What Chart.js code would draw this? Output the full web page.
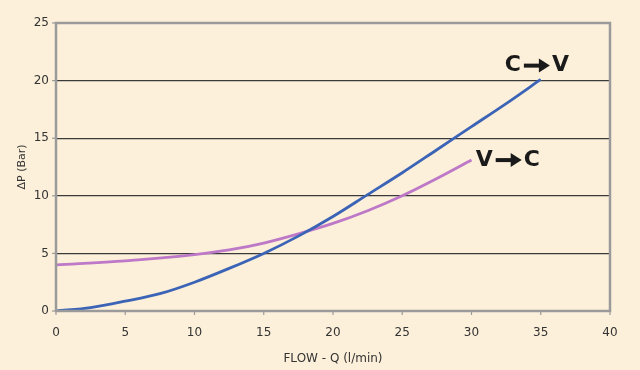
<!DOCTYPE html>
<html><head><meta charset="utf-8">
<script src="https://cdn.jsdelivr.net/npm/chart.js@4"></script>
<style>html,body{margin:0;padding:0;background:#fdf0da;}#wrap{width:640px;height:370px;}</style>
</head><body><div id="wrap"><canvas id="c" width="640" height="370"></canvas></div>
<script>
const flowCV = [0, 2.5, 5, 7.5, 10, 12.5, 15, 17.5, 20, 22.5, 25, 27.5, 30, 32.5, 35];
const dpCV   = [0, 0.3, 0.85, 1.5, 2.5, 3.7, 5.0, 6.5, 8.2, 10.1, 12.0, 14.0, 16.0, 18.0, 20.1];
const flowVC = [0, 5, 10, 12.5, 15, 17.5, 20, 22.5, 25, 27.5, 30];
const dpVC   = [4.0, 4.35, 4.9, 5.3, 5.9, 6.7, 7.6, 8.7, 10.0, 11.5, 13.1];
const xTicks = [0, 5, 10, 15, 20, 25, 30, 35, 40];
const yTicks = [0, 5, 10, 15, 20, 25];
const labels = [
  {from: 'C', to: 'V', x: 32.4, y: 21.3},
  {from: 'V', to: 'C', x: 30.3, y: 13.1}
];

const FONT = "'DejaVu Sans', sans-serif";
const frame = {
  id: 'frame',
  afterDatasetsDraw(chart) {
    const {ctx, chartArea: a, scales} = chart;
    ctx.save();
    ctx.strokeStyle = '#9a9a9a';
    ctx.lineWidth = 2.5;
    ctx.strokeRect(a.left, a.top, a.right - a.left, a.bottom - a.top);
    ctx.lineWidth = 1.2;
    xTicks.forEach(v => { const px = scales.x.getPixelForValue(v); ctx.beginPath(); ctx.moveTo(px, a.bottom); ctx.lineTo(px, a.bottom + 4); ctx.stroke(); });
    yTicks.forEach(v => { const py = scales.y.getPixelForValue(v); ctx.beginPath(); ctx.moveTo(a.left - 4, py); ctx.lineTo(a.left, py); ctx.stroke(); });
    ctx.fillStyle = '#1a1a1a';
    ctx.strokeStyle = '#1a1a1a';
    ctx.font = "bold 22px " + FONT;
    ctx.textBaseline = 'middle';
    labels.forEach(l => {
      let px = scales.x.getPixelForValue(l.x);
      const py = scales.y.getPixelForValue(l.y);
      ctx.fillText(l.from, px, py);
      px += ctx.measureText(l.from).width + 3;
      ctx.lineWidth = 4;
      ctx.beginPath(); ctx.moveTo(px, py); ctx.lineTo(px + 18, py); ctx.stroke();
      ctx.beginPath(); ctx.moveTo(px + 15, py - 7); ctx.lineTo(px + 26, py); ctx.lineTo(px + 15, py + 7); ctx.closePath(); ctx.fill();
      ctx.fillText(l.to, px + 28, py);
    });
    ctx.restore();
  }
};

new Chart(document.getElementById('c'), {
  type: 'scatter',
  data: {
    datasets: [
      {label: 'C→V', data: flowCV.map((x, i) => ({x, y: dpCV[i]})), showLine: true, borderColor: '#3b63b6', borderWidth: 2.8, pointRadius: 0, cubicInterpolationMode: 'monotone'},
      {label: 'V→C', data: flowVC.map((x, i) => ({x, y: dpVC[i]})), showLine: true, borderColor: '#bd78c8', borderWidth: 2.8, pointRadius: 0, cubicInterpolationMode: 'monotone'}
    ]
  },
  plugins: [frame],
  options: {
    responsive: false,
    animation: false,
    layout: {padding: {top: 23, right: 30, left: 12, bottom: 0}},
    plugins: {legend: {display: false}, tooltip: {enabled: false}},
    scales: {
      x: {
        type: 'linear', min: 0, max: 40,
        afterBuildTicks: s => { s.ticks = xTicks.map(v => ({value: v})); },
        afterFit: s => { s.height = 59; },
        grid: {display: false},
        border: {display: false},
        ticks: {color: '#333', font: {family: FONT, size: 12}, padding: 7, maxRotation: 0},
        title: {display: true, text: 'FLOW - Q (l/min)', color: '#333', font: {family: FONT, size: 12}, padding: {top: 6}}
      },
      y: {
        min: 0, max: 25,
        afterBuildTicks: s => { s.ticks = yTicks.map(v => ({value: v})); },
        afterFit: s => { s.width = 44; },
        grid: {color: '#3a3a3a', lineWidth: 1.2, drawTicks: false},
        border: {display: false},
        ticks: {color: '#333', font: {family: FONT, size: 12}, padding: 7},
        title: {display: true, text: 'ΔP (Bar)', color: '#333', font: {family: FONT, size: 11}, padding: {bottom: 4}}
      }
    }
  }
});
</script></body></html>
